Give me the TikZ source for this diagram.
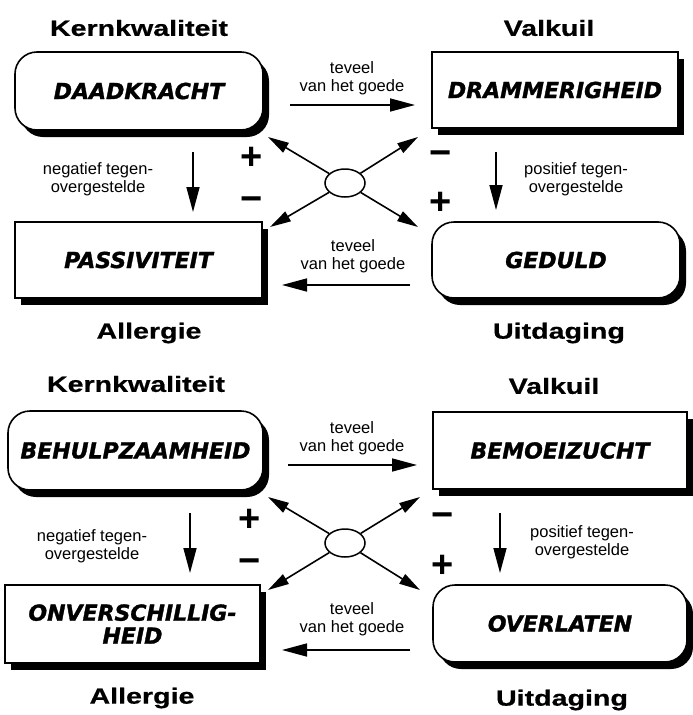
\documentclass[tikz,border=0pt]{standalone}
\usepackage{fontspec}
\setmainfont{Liberation Sans}
\newfontfamily\headfont{Liberation Sans}[FakeStretch=1.3, BoldFeatures={FakeBold=0.6}]
\newfontfamily\boxfont{DejaVu Sans}[BoldItalicFeatures={FakeBold=1.4}]
\usetikzlibrary{arrows.meta,shapes.geometric,shadows}
\tikzset{
  basebox/.style={draw, line width=1.6pt, fill=white, inner sep=0pt, align=center,
    font=\boxfont\bfseries\itshape\fontsize{22}{23}\selectfont,
    drop shadow={fill=black, opacity=1, shadow xshift=6pt, shadow yshift=-7pt}},
  rbox/.style={basebox, rounded corners=22pt},
  sbox/.style={basebox},
  head/.style={font=\headfont\bfseries\fontsize{22}{24}\selectfont},
  small/.style={font=\fontsize{16.5}{18.5}\selectfont, align=center},
  sign/.style={font=\bfseries\fontsize{38}{38}\selectfont, inner sep=0pt},
  hub/.style={draw, ellipse, line width=1.5pt, fill=white, minimum width=40pt, minimum height=28pt, inner sep=0pt},
  arr/.style={line width=1.6pt, -{Triangle[length=25pt,width=13pt]}},
  darr/.style={line width=1.6pt, -{Triangle[length=21pt,width=11pt]}}
}
\begin{document}
\begin{tikzpicture}[x=1pt,y=-1pt]
\useasboundingbox (0,0) rectangle (693,715);

% ---------- top diagram ----------
\node[head] (k1) at (139,28) {Kernkwaliteit};
\node[head] (v1) at (549,28) {Valkuil};
\node[head] (a1) at (149,333) {Allergie};
\node[head] (u1) at (559,333) {Uitdaging};

\node[rbox, minimum width=248pt, minimum height=78pt] (daad) at (139,91) {DAADKRACHT};
\node[sbox, minimum width=246pt, minimum height=76pt] (dram) at (555,90) {DRAMMERIGHEID};
\node[sbox, minimum width=247pt, minimum height=76pt] (pass) at (138.5,260) {PASSIVITEIT};
\node[rbox, minimum width=248pt, minimum height=76pt] (ged) at (556,260) {GEDULD};

\node[small] (t1a) at (352,78) {teveel\\van het goede};
\node[small] (t1b) at (353,256) {teveel\\van het goede};
\node[small] (n1) at (98,179) {negatief tegen-\\overgestelde};
\node[small] (p1) at (576,179) {positief tegen-\\overgestelde};

\coordinate (h1s) at (290,105); \coordinate (h1e) at (415,105);
\coordinate (h2s) at (410,285); \coordinate (h2e) at (282,285);
\coordinate (w1s) at (193,152); \coordinate (w1e) at (193,212);
\coordinate (w2s) at (496,152); \coordinate (w2e) at (496,210);
\draw[arr] (h1s) -- (h1e);
\draw[arr] (h2s) -- (h2e);
\draw[arr] (w1s) -- (w1e);
\draw[arr] (w2s) -- (w2e);

\node[hub] (hub1) at (345,183) {};
\coordinate (d1a) at (268,137); \coordinate (d1b) at (418,137);
\coordinate (d1c) at (270,227); \coordinate (d1d) at (418,227);
\draw[darr] (hub1) -- (d1a);
\draw[darr] (hub1) -- (d1b);
\draw[darr] (hub1) -- (d1c);
\draw[darr] (hub1) -- (d1d);

\node[sign] (s1a) at (252,158) {+};
\node[sign] (s1b) at (252,204) {\char"2212};
\node[sign] (s1c) at (441,158) {\char"2212};
\node[sign] (s1d) at (441,203) {+};

% ---------- bottom diagram ----------
\node[head] (k2) at (136,384) {Kernkwaliteit};
\node[head] (v2) at (554,386) {Valkuil};
\node[head] (a2) at (142,698) {Allergie};
\node[head] (u2) at (562,700) {Uitdaging};

\node[rbox, minimum width=255pt, minimum height=79pt] (beh) at (135.5,450.5) {BEHULPZAAMHEID};
\node[sbox, minimum width=254pt, minimum height=77pt] (bem) at (560,450.5) {BEMOEIZUCHT};
\node[sbox, minimum width=255pt, minimum height=78pt] (onv) at (132.5,624) {ONVERSCHILLIG-\\HEID};
\node[rbox, minimum width=254pt, minimum height=77pt] (ovl) at (560,623.5) {OVERLATEN};

\node[small] (t2a) at (352,438) {teveel\\van het goede};
\node[small] (t2b) at (352,619) {teveel\\van het goede};
\node[small] (n2) at (92,546) {negatief tegen-\\overgestelde};
\node[small] (p2) at (582,542) {positief tegen-\\overgestelde};

\coordinate (h3s) at (288,465); \coordinate (h3e) at (417,465);
\coordinate (h4s) at (410,650); \coordinate (h4e) at (282,650);
\coordinate (w3s) at (190,513); \coordinate (w3e) at (190,573);
\coordinate (w4s) at (500,513); \coordinate (w4e) at (500,573);
\draw[arr] (h3s) -- (h3e);
\draw[arr] (h4s) -- (h4e);
\draw[arr] (w3s) -- (w3e);
\draw[arr] (w4s) -- (w4e);

\node[hub] (hub2) at (345,543) {};
\coordinate (d2a) at (268,497); \coordinate (d2b) at (420,497);
\coordinate (d2c) at (268,590); \coordinate (d2d) at (420,590);
\draw[darr] (hub2) -- (d2a);
\draw[darr] (hub2) -- (d2b);
\draw[darr] (hub2) -- (d2c);
\draw[darr] (hub2) -- (d2d);

\node[sign] (s2a) at (250,520) {+};
\node[sign] (s2b) at (250,566) {\char"2212};
\node[sign] (s2c) at (443,520) {\char"2212};
\node[sign] (s2d) at (443,566) {+};
\end{tikzpicture}
\end{document}
